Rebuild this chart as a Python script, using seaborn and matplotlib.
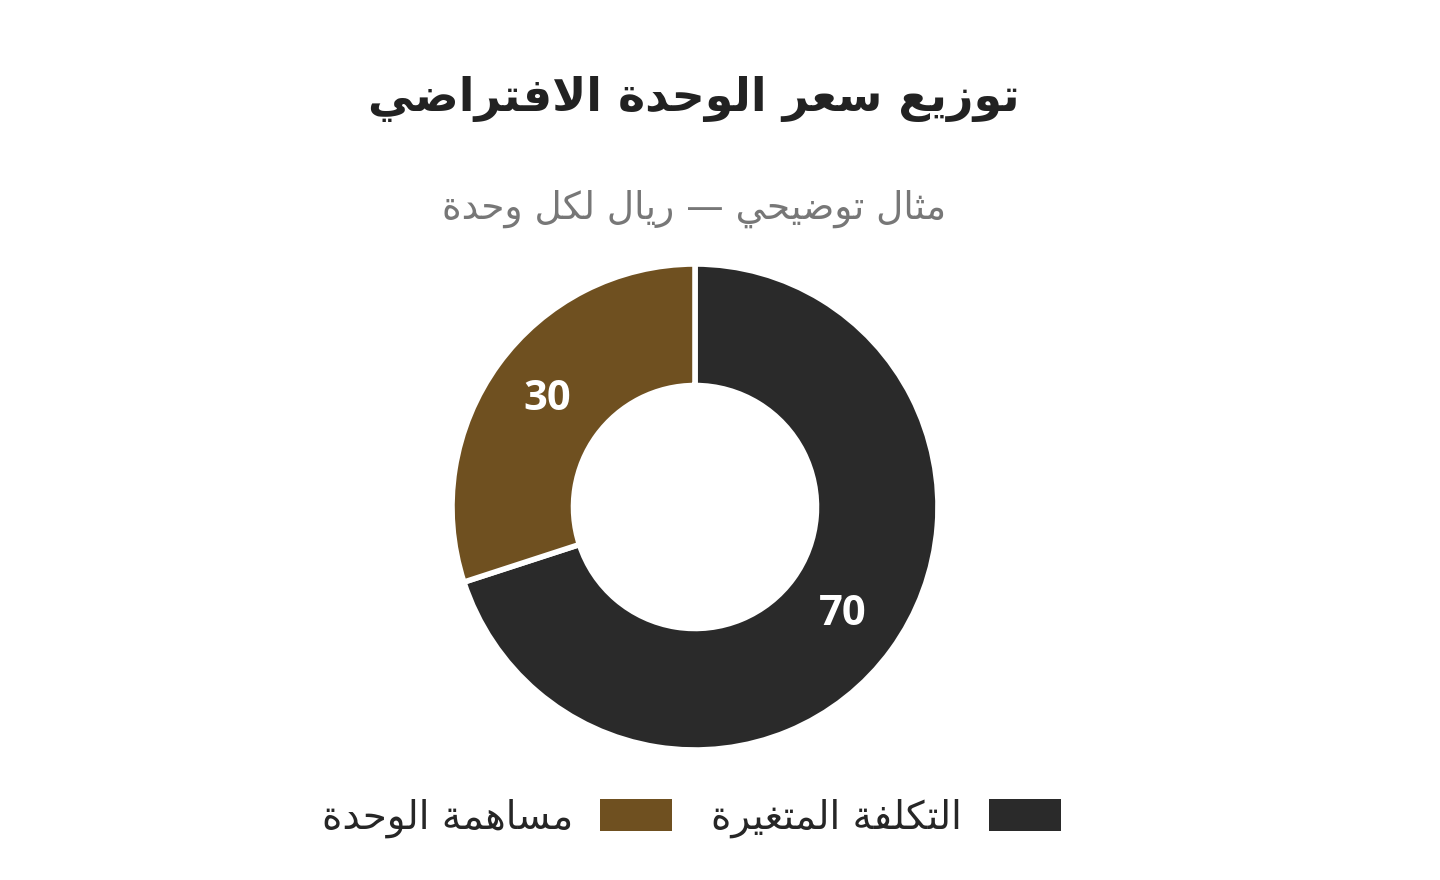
import matplotlib
matplotlib.use("Agg")
import matplotlib.pyplot as plt
import seaborn as sns
import numpy as np
from matplotlib.patches import Patch

# ---------------- data ----------------
title = "توزيع سعر الوحدة الافتراضي"
subtitle = "مثال توضيحي — ريال لكل وحدة"
categories = ["التكلفة المتغيرة", "مساهمة الوحدة"]
values = [70, 30]
colors = ["#2a2a2a", "#6f5020"]

sns.set_theme(style="white")
plt.rcParams['font.family'] = ['DejaVu Sans']

# ---------------- tiny arabic shaper (no arabic_reshaper available) ----------------
# letter -> (first presentation form code, dual joining?)
FORMS = {
    'ا': (0xFE8D, False), 'ب': (0xFE8F, True), 'ة': (0xFE93, False), 'ت': (0xFE95, True),
    'ث': (0xFE99, True), 'ج': (0xFE9D, True), 'ح': (0xFEA1, True), 'خ': (0xFEA5, True),
    'د': (0xFEA9, False), 'ذ': (0xFEAB, False), 'ر': (0xFEAD, False), 'ز': (0xFEAF, False),
    'س': (0xFEB1, True), 'ش': (0xFEB5, True), 'ص': (0xFEB9, True), 'ض': (0xFEBD, True),
    'ط': (0xFEC1, True), 'ظ': (0xFEC5, True), 'ع': (0xFEC9, True), 'غ': (0xFECD, True),
    'ف': (0xFED1, True), 'ق': (0xFED5, True), 'ك': (0xFED9, True), 'ل': (0xFEDD, True),
    'م': (0xFEE1, True), 'ن': (0xFEE5, True), 'ه': (0xFEE9, True), 'و': (0xFEED, False),
    'ى': (0xFEEF, False), 'ي': (0xFEF1, True),
}


def shape(s):
    out = []
    i = 0
    n = len(s)
    while i < n:
        c = s[i]
        if c not in FORMS:
            out.append(c)
            i += 1
            continue
        prev = s[i - 1] if i > 0 else ''
        joins_prev = prev in FORMS and FORMS[prev][1]
        # lam-alef ligature
        if c == 'ل' and i + 1 < n and s[i + 1] == 'ا':
            out.append(chr(0xFEFC if joins_prev else 0xFEFB))
            i += 2
            continue
        base, dual = FORMS[c]
        nxt = s[i + 1] if i + 1 < n else ''
        joins_next = dual and nxt in FORMS
        if joins_prev and joins_next:
            code = base + 3
        elif joins_next:
            code = base + 2
        elif joins_prev:
            code = base + 1
        else:
            code = base
        out.append(chr(code))
        i += 1
    return ''.join(out)[::-1]


# ---------------- figure ----------------
fig = plt.figure(figsize=(14.4, 8.8), dpi=100)
fig.patch.set_facecolor('white')

fig.text(694 / 1440, 1 - 99 / 880, shape(title), ha='center', va='center',
         fontsize=33, fontweight='bold', color='#222222')
fig.text(694 / 1440, 1 - 209 / 880, shape(subtitle), ha='center', va='center',
         fontsize=27, color='#777777')

ax = fig.add_axes([(695 - 243) / 1440, (880 - 750) / 880, 486 / 1440, 486 / 880])
wedges, _ = ax.pie(values, colors=colors, startangle=90, counterclock=False,
                   radius=1.0, wedgeprops=dict(width=0.5, edgecolor='white', linewidth=4))
ax.set_xlim(-1, 1)
ax.set_ylim(-1, 1)
ax.set_aspect('equal')

# value labels in the middle of the ring
for w, v in zip(wedges, values):
    ang = np.deg2rad((w.theta1 + w.theta2) / 2)
    ax.text(0.75 * np.cos(ang), 0.75 * np.sin(ang), str(v), ha='center', va='center',
            fontsize=30, fontweight='bold', color='white', family='Open Sans')

# legend, right-to-left: first category sits on the right
handles = [Patch(facecolor=colors[i], edgecolor='none', label=shape(categories[i]))
           for i in [1, 0]]
fig.legend(handles=handles, loc='center', bbox_to_anchor=(691.5 / 1440, 1 - 818 / 880),
           ncol=2, frameon=False, markerfirst=False, fontsize=28,
           handlelength=1.85, handleheight=0.92, handletextpad=0.7, columnspacing=1.0)

fig.savefig('out.png', dpi=100, facecolor='white')
